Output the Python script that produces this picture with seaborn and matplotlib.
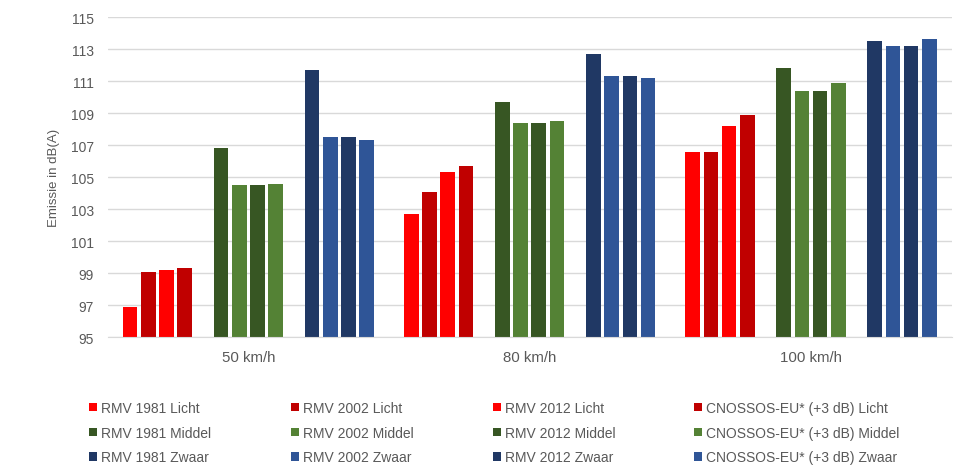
import matplotlib
matplotlib.use('Agg')
import matplotlib.pyplot as plt
import seaborn as sns
import pandas as pd
from matplotlib.patches import Patch

sns.set_style('white')
plt.rcParams['font.family'] = ['Liberation Sans', 'DejaVu Sans']

# Data
speeds = ['50 km/h', '80 km/h', '100 km/h']
methods = ['RMV 1981', 'RMV 2002', 'RMV 2012', 'CNOSSOS-EU* (+3 dB)']
classes = ['Licht', 'Middel', 'Zwaar']

licht = [[96.9, 99.1, 99.2, 99.35],
         [102.7, 104.1, 105.3, 105.7],
         [106.6, 106.6, 108.2, 108.9]]
middel = [[106.8, 104.5, 104.5, 104.6],
          [109.7, 108.4, 108.4, 108.5],
          [111.8, 110.4, 110.4, 110.9]]
zwaar = [[111.7, 107.5, 107.5, 107.3],
         [112.7, 111.3, 111.3, 111.2],
         [113.5, 113.2, 113.2, 113.6]]

colors = {
    'Licht': ['#FF0000', '#C00000', '#FF0000', '#C00000'],
    'Middel': ['#375623', '#548235', '#375623', '#548235'],
    'Zwaar': ['#203864', '#2F5597', '#203864', '#2F5597'],
}

values = {'Licht': licht, 'Middel': middel, 'Zwaar': zwaar}

rows = []
for cls in classes:
    for i, sp in enumerate(speeds):
        for j, m in enumerate(methods):
            rows.append({'speed': sp, 'series': m + ' ' + cls, 'value': values[cls][i][j]})
df = pd.DataFrame(rows)

# hue order with empty slots between the weight classes
hue_order = []
palette = {}
for k, cls in enumerate(classes):
    for j, m in enumerate(methods):
        name = m + ' ' + cls
        hue_order.append(name)
        palette[name] = colors[cls][j]
    if k < len(classes) - 1:
        hue_order.append('_gap%d' % k)
        palette['_gap%d' % k] = '#FFFFFF'

fig = plt.figure(figsize=(9.75, 4.77), dpi=100)
ax = fig.add_axes([0.1105, 0.2908, 0.8655, 0.6714])

sns.barplot(data=df, x='speed', y='value', hue='series', hue_order=hue_order,
            order=speeds, palette=palette, saturation=1, width=0.906, gap=0.2,
            linewidth=0, legend=False, ax=ax)

ax.set_ylim(95, 115)
ax.set_yticks(range(95, 116, 2))
ax.set_xlim(-0.5, 2.5)
ax.set_xlabel('')
ax.set_ylabel('Emissie in dB(A)', fontsize=9.5, color='#595959', labelpad=8)
ax.grid(axis='y', color='#D9D9D9', linewidth=1)
ax.set_axisbelow(True)
for s in ['left', 'right', 'top']:
    ax.spines[s].set_visible(False)
ax.spines['bottom'].set_color('#D9D9D9')
ax.tick_params(axis='both', length=0, labelsize=10, colors='#595959')
ax.tick_params(axis='y', pad=10)
ax.tick_params(axis='x', pad=9, labelsize=10.8)

# legend: four columns, laid out row-wise
col_x = [89, 291, 493, 694]
for j, m in enumerate(methods):
    handles = [Patch(facecolor=colors[cls][j], edgecolor='none') for cls in classes]
    labels = [m + ' ' + cls for cls in classes]
    fig.legend(handles, labels, loc='upper left',
               bbox_to_anchor=(col_x[j] / 975, 1 - 402 / 477),
               frameon=False, fontsize=10, labelcolor='#595959',
               handlelength=0.55, handleheight=0.55, handletextpad=0.3,
               labelspacing=0.77, borderaxespad=0, borderpad=0)

fig.savefig('out.png', dpi=100)
